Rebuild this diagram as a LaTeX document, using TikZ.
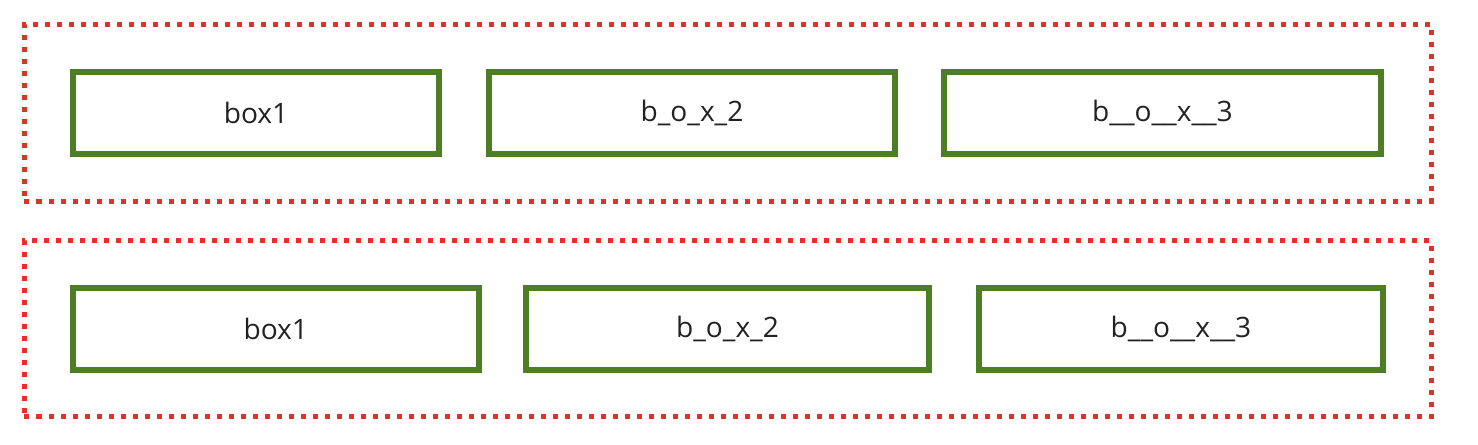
\documentclass[tikz,border=0pt]{standalone}
\usepackage{fontspec}
\setmainfont{Open Sans}
\usepackage{tikz}
\usetikzlibrary{
    positioning
}

\definecolor{framered}{RGB}{225,50,38}
\definecolor{boxgreen}{RGB}{76,126,36}
\definecolor{textdark}{RGB}{34,34,34}

\begin{document}
\begin{tikzpicture}[
frame/.style={
draw=framered,
line width=0.1cm,
dash pattern=on 0.1cm off 0.14cm,
minimum width=28.13cm,
minimum height=3.53cm,
inner sep=0pt
},
box/.style={
draw=boxgreen,
line width=0.12cm,
minimum height=1.64cm,
inner sep=0pt,
align=center,
text=textdark,
font=\fontsize{16}{19}\selectfont
}
]

\useasboundingbox (0,0) rectangle (29.56,-8.88);

% upper row
\node[frame] (frametop) at (14.555,-2.255) {};

\node[box, minimum width=7.32cm] (topone) at (5.12,-2.26)
{box1};

\node[box, minimum width=8.12cm,
right=0.88cm of topone] (toptwo)
{b\_o\_x\_2};

\node[box, minimum width=8.74cm,
right=0.86cm of toptwo] (topthree)
{b\_\_o\_\_x\_\_3};

% lower row
\node[frame, minimum height=3.52cm] (framebottom) at (14.555,-6.574) {};

\node[box, minimum width=8.11cm] (botone) at (5.515,-6.58)
{box1};

\node[box, minimum width=8.06cm,
right=0.83cm of botone] (bottwo)
{b\_o\_x\_2};

\node[box, minimum width=8.08cm,
right=0.88cm of bottwo] (botthree)
{b\_\_o\_\_x\_\_3};

\end{tikzpicture}
\end{document}
